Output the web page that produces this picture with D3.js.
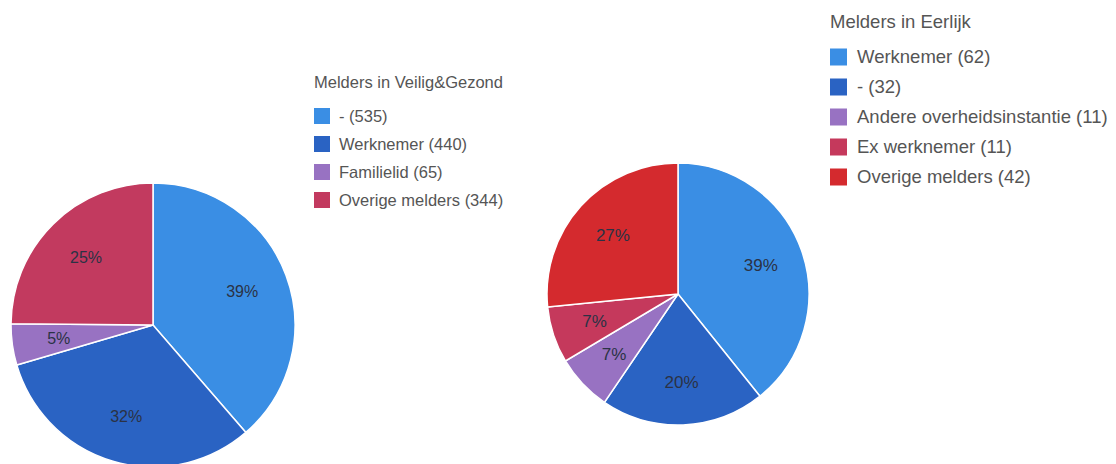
<!DOCTYPE html>
<html>
<head>
<meta charset="utf-8">
<script src="https://cdn.jsdelivr.net/npm/d3@7"></script>
<style>
  html, body { margin: 0; padding: 0; background: #ffffff; }
  svg { display: block; font-family: Arial, "Liberation Sans", sans-serif; }
</style>
</head>
<body>
<svg id="chart" width="1116" height="464"></svg>
<script>
// Chart 1: Melders in Veilig&Gezond
const title1 = "Melders in Veilig&Gezond";
const labels1 = ["-", "Werknemer", "Familielid", "Overige melders"];
const values1 = [535, 440, 65, 344];
const colors1 = ["#3a8ee4", "#2a63c3", "#9872c2", "#c23a5f"];

// Chart 2: Melders in Eerlijk
const title2 = "Melders in Eerlijk";
const labels2 = ["Werknemer", "-", "Andere overheidsinstantie", "Ex werknemer", "Overige melders"];
const values2 = [62, 32, 11, 11, 42];
const colors2 = ["#3a8ee4", "#2a63c3", "#9872c2", "#c5395c", "#d42a2e"];

const svg = d3.select("#chart");

function drawPie(cfg) {
  const total = d3.sum(cfg.values);
  const data = cfg.values.map((v, i) => ({ label: cfg.labels[i], value: v, color: cfg.colors[i] }));
  const pie = d3.pie().sort(null).value(d => d.value);
  const arcs = pie(data);
  const arc = d3.arc().innerRadius(0).outerRadius(cfg.r);
  const labelArc = d3.arc().innerRadius(cfg.r * 0.67).outerRadius(cfg.r * 0.67);

  const g = svg.append("g").attr("transform", `translate(${cfg.cx},${cfg.cy})`);
  g.selectAll("path").data(arcs).join("path")
    .attr("d", arc)
    .attr("fill", d => d.data.color)
    .attr("stroke", "#ffffff")
    .attr("stroke-width", 1.5);

  g.selectAll("text").data(arcs).join("text")
    .attr("transform", d => `translate(${labelArc.centroid(d)})`)
    .attr("text-anchor", "middle")
    .attr("dy", "0.35em")
    .attr("font-size", cfg.labelSize)
    .attr("fill", "#2b3245")
    .text(d => Math.round(d.data.value / total * 100) + "%");

  const lg = svg.append("g").attr("transform", `translate(${cfg.lx},${cfg.ly})`);
  lg.append("text")
    .attr("x", 0).attr("y", 0)
    .attr("dy", "0.35em")
    .attr("font-size", cfg.titleSize)
    .attr("fill", "#555")
    .text(cfg.title);
  const items = lg.selectAll("g.item").data(data).join("g")
    .attr("class", "item")
    .attr("transform", (d, i) => `translate(0,${cfg.firstGap + i * cfg.rowGap})`);
  items.append("rect")
    .attr("x", 0).attr("y", -cfg.sw / 2)
    .attr("width", cfg.sw).attr("height", cfg.sw)
    .attr("fill", d => d.color);
  items.append("text")
    .attr("x", cfg.textX).attr("y", 0)
    .attr("dy", "0.35em")
    .attr("font-size", cfg.itemSize)
    .attr("fill", "#555")
    .text(d => `${d.label} (${d.value})`);
}

drawPie({
  title: title1, labels: labels1, values: values1, colors: colors1,
  cx: 153, cy: 325, r: 142, labelSize: 16,
  lx: 314, ly: 82, titleSize: 16.5, itemSize: 16.5,
  firstGap: 34, rowGap: 28, sw: 16, textX: 25
});

drawPie({
  title: title2, labels: labels2, values: values2, colors: colors2,
  cx: 678, cy: 294, r: 131, labelSize: 17,
  lx: 830, ly: 22, titleSize: 18.5, itemSize: 18.5,
  firstGap: 35, rowGap: 30, sw: 17, textX: 27
});
</script>
</body>
</html>
